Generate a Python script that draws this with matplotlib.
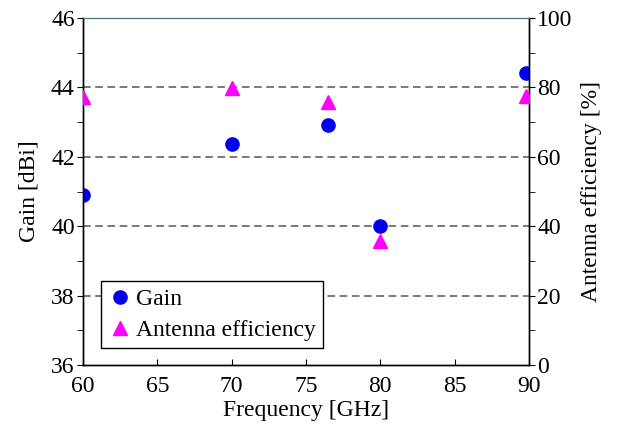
import matplotlib.pyplot as plt
from matplotlib.ticker import MultipleLocator

plt.rcParams['font.family'] = ['Liberation Serif', 'DejaVu Serif']
plt.rcParams['font.size'] = 17

freq_gain = [60, 70, 76.5, 80, 89.8]
gain = [40.9, 42.37, 42.92, 40.0, 44.42]

freq_eff = [60, 70, 76.5, 80, 89.8]
efficiency = [77.3, 79.7, 75.7, 35.7, 77.6]

fig = plt.figure(figsize=(6.17, 4.30), dpi=100)
ax = fig.add_axes([83 / 617, 65 / 430, 446 / 617, 347 / 430])
ax2 = ax.twinx()

for y in [38, 40, 42, 44]:
    ax.axhline(y, color='#555555', linestyle=(0, (5, 3)), linewidth=1.1, zorder=0)

g, = ax.plot(freq_gain, gain, 'o', color='#0000ee', markersize=9.5,
             linestyle='none', label='Gain', zorder=3)
e, = ax2.plot(freq_eff, efficiency, '^', color='#ff00ff', markersize=10,
              linestyle='none', label='Antenna efficiency', zorder=3)

ax.set_xlim(60, 90)
ax.set_ylim(36, 46)
ax2.set_ylim(0, 100)
ax.xaxis.set_major_locator(MultipleLocator(5))
ax.yaxis.set_major_locator(MultipleLocator(2))
ax.yaxis.set_minor_locator(MultipleLocator(1))
ax2.yaxis.set_major_locator(MultipleLocator(20))
ax2.yaxis.set_minor_locator(MultipleLocator(10))

ax.tick_params(axis='x', direction='in', length=4, pad=8)
ax.tick_params(axis='y', which='both', direction='out', length=4, pad=2)
ax2.tick_params(axis='y', which='both', direction='out', length=4, pad=2)

for a in (ax, ax2):
    a.spines['top'].set_color('#4f6f7f')
    for s in ['left', 'right', 'bottom']:
        a.spines[s].set_linewidth(1.0)

ax.set_xlabel('Frequency [GHz]', labelpad=2)
ax.set_ylabel('Gain [dBi]', labelpad=8)
ax2.set_ylabel('Antenna efficiency [%]', labelpad=6)

leg = ax.legend(handles=[g, e], loc='lower left', bbox_to_anchor=(0.04, 0.049),
                fancybox=False, edgecolor='black', framealpha=1,
                handletextpad=0.2, handlelength=1.0, borderpad=0.3,
                labelspacing=0.4, borderaxespad=0)
leg.get_frame().set_linewidth(1.0)
leg.set_zorder(5)

fig.savefig('out.png', dpi=100)
